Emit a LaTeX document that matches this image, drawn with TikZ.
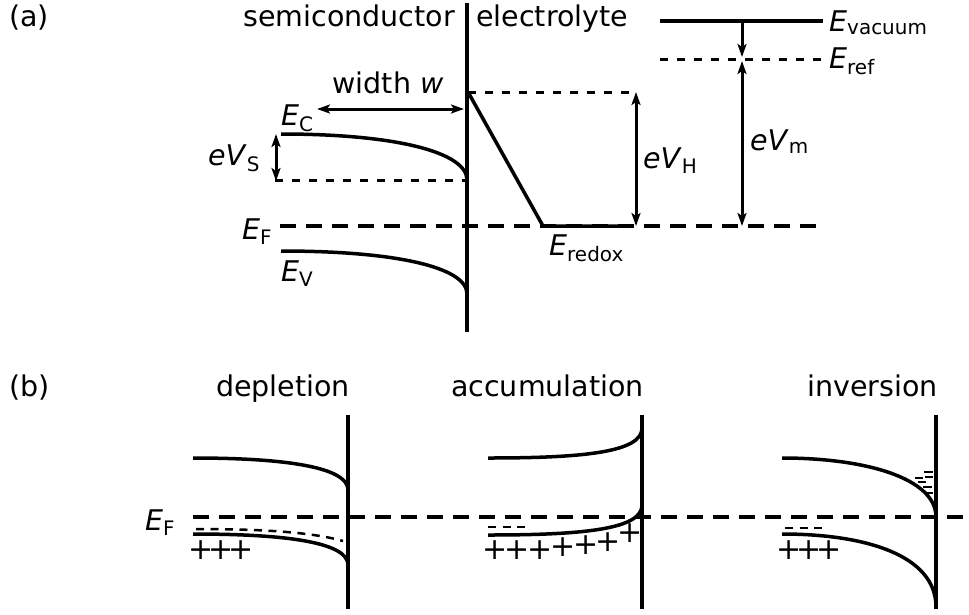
\documentclass[tikz,border=0pt]{standalone}
\usepackage{fontspec}
\setmainfont{DejaVu Sans}
\usetikzlibrary{arrows.meta}
\newcommand{\lev}[2]{\textit{#1}\textsubscript{#2}}
\newcommand{\pluss}{+\kern-5pt+\kern-5pt+}

\begin{document}
\begin{tikzpicture}[x=1pt,y=-1pt,
  every node/.style={inner sep=0pt},
  txt/.style={font=\fontsize{28.5}{34}\selectfont},
  pluses/.style={font=\fontsize{30}{34}\selectfont},
  band/.style={line width=3.5pt},
  iface/.style={line width=4pt},
  fermi/.style={line width=3.5pt,dash pattern=on 16pt off 10pt},
  dotlvl/.style={line width=3pt,dash pattern=on 8pt off 9pt},
  dimarrow/.style={line width=3pt,{Stealth[length=13pt,width=9pt,inset=3pt]}-{Stealth[length=13pt,width=9pt,inset=3pt]}},
  downarrow/.style={line width=3pt,-{Stealth[length=13pt,width=9pt,inset=3pt]}},
  chg/.style={line width=2.5pt,dash pattern=on 8pt off 6.5pt},
  tick/.style={line width=2.5pt}
]
\useasboundingbox (0,0) rectangle (969,614);

% ---------- (a) ----------
\node[txt,anchor=base west] (la) at (9,26) {(a)};
\node[txt,anchor=base east] (semi) at (455,26) {semiconductor};
\node[txt,anchor=base west] (elec) at (476,26) {electrolyte};

\coordinate (ifTop) at (467,3);
\coordinate (ifBot) at (467,332);
\draw[iface] (ifTop) -- (ifBot);

% bands
\coordinate (cL) at (281,134);
\coordinate (cR) at (467,180);
\coordinate (vL) at (281,251);
\coordinate (vR) at (467,294);
\draw[band] (cL) .. controls (395,134) and (467,152) .. (cR);
\draw[band] (vL) .. controls (395,251) and (467,267) .. (vR);
\coordinate (sL) at (275,180);
\draw[dotlvl] (sL) -- (cR);

% Helmholtz layer and redox level
\coordinate (hTop) at (468,92);
\coordinate (hBot) at (543,226);
\coordinate (rEnd) at (630,226);
\draw[band,line join=round] (hTop) -- (hBot) -- (rEnd);
\coordinate (hR) at (634,92);
\draw[dotlvl] (hTop) -- (hR);

% Fermi level
\coordinate (fL) at (280,226);
\coordinate (fR) at (823,226);
\draw[fermi] (fL) -- (fR);

% vacuum and reference
\coordinate (vacL) at (660,21);
\coordinate (vacR) at (823,21);
\coordinate (refL) at (660,59);
\coordinate (refR) at (823,59);
\draw[band] (vacL) -- (vacR);
\draw[dotlvl] (refL) -- (refR);

% arrows
\coordinate (wL) at (317,109);
\coordinate (wR) at (464,109);
\draw[dimarrow] (wL) -- (wR);
\coordinate (sTop) at (276,134);
\coordinate (sBot) at (276,181);
\draw[dimarrow] (sTop) -- (sBot);
\coordinate (hTopA) at (636,92);
\coordinate (hBotA) at (636,226);
\draw[dimarrow] (hTopA) -- (hBotA);
\coordinate (mVac) at (742,21);
\coordinate (mRef) at (742,57);
\coordinate (mTop) at (742,61);
\coordinate (mBot) at (742,226);
\draw[downarrow] (mVac) -- (mRef);
\draw[dimarrow] (mTop) -- (mBot);

% labels
\node[txt,anchor=base] (wlab) at (388,93) {width \textit{w}};
\node[txt,anchor=base west] (ec) at (281,125) {\lev{E}{C}};
\node[txt,anchor=base west] (evs) at (208,165) {\lev{eV}{S}};
\node[txt,anchor=base west] (efa) at (242,239) {\lev{E}{F}};
\node[txt,anchor=base west] (ev) at (281,281) {\lev{E}{V}};
\node[txt,anchor=base west] (ered) at (549,255) {\lev{E}{redox}};
\node[txt,anchor=base west] (evh) at (643,168) {\lev{eV}{H}};
\node[txt,anchor=base west] (evm) at (750,150) {\lev{eV}{m}};
\node[txt,anchor=base west] (evac) at (829,31) {\lev{E}{vacuum}};
\node[txt,anchor=base west] (eref) at (829,68) {\lev{E}{ref}};

% ---------- (b) ----------
\node[txt,anchor=base west] (lb) at (9,396) {(b)};
\node[txt,anchor=base east] (tdep) at (350,396) {depletion};
\node[txt,anchor=base east] (tacc) at (644,396) {accumulation};
\node[txt,anchor=base east] (tinv) at (938,396) {inversion};
\node[txt,anchor=base west] (efb) at (145,530) {\lev{E}{F}};

\coordinate (fbL) at (193,517);
\coordinate (fbR) at (969,517);
\draw[fermi] (fbL) -- (fbR);

% depletion
\coordinate (dT) at (348,415);
\coordinate (dB) at (348,609);
\draw[iface] (dT) -- (dB);
\draw[band] (193,458) .. controls (290,458) and (348,468) .. (348,490);
\draw[band] (193,534) .. controls (290,534) and (348,543) .. (348,565);
\draw[chg] (196,529) .. controls (270,529) and (315,533) .. (343,541);
\node[pluses] (pdep) at (221,550) {\pluss};

% accumulation
\coordinate (aT) at (642,415);
\coordinate (aB) at (642,609);
\draw[iface] (aT) -- (aB);
\draw[band] (488,458) .. controls (585,458) and (642,452) .. (642,428);
\draw[band] (488,535) .. controls (585,535) and (642,529) .. (642,505);
\draw[chg] (488,527) -- (531,527);
\foreach \px/\py [count=\i] in {495/550,517/550,540/550,563/547,586/545,608/542,630/533}
  \node[pluses] (pacc\i) at (\px,\py) {+};

% inversion
\coordinate (iT) at (936,415);
\coordinate (iB) at (936,609);
\draw[iface] (iT) -- (iB);
\draw[band] (782,458) .. controls (865,458) and (936,478) .. (936,517);
\draw[band] (782,534) .. controls (865,534) and (936,555) .. (936,607);
\draw[chg] (785,528) -- (826,528);
\node[pluses] (pinv) at (809,550) {\pluss};
\foreach \xa/\xb/\yy in {924/933/472,915/923/478,925/933/477,918/926/482,923/932/487,925/933/493}
  \draw[tick] (\xa,\yy) -- (\xb,\yy);
\end{tikzpicture}
\end{document}
